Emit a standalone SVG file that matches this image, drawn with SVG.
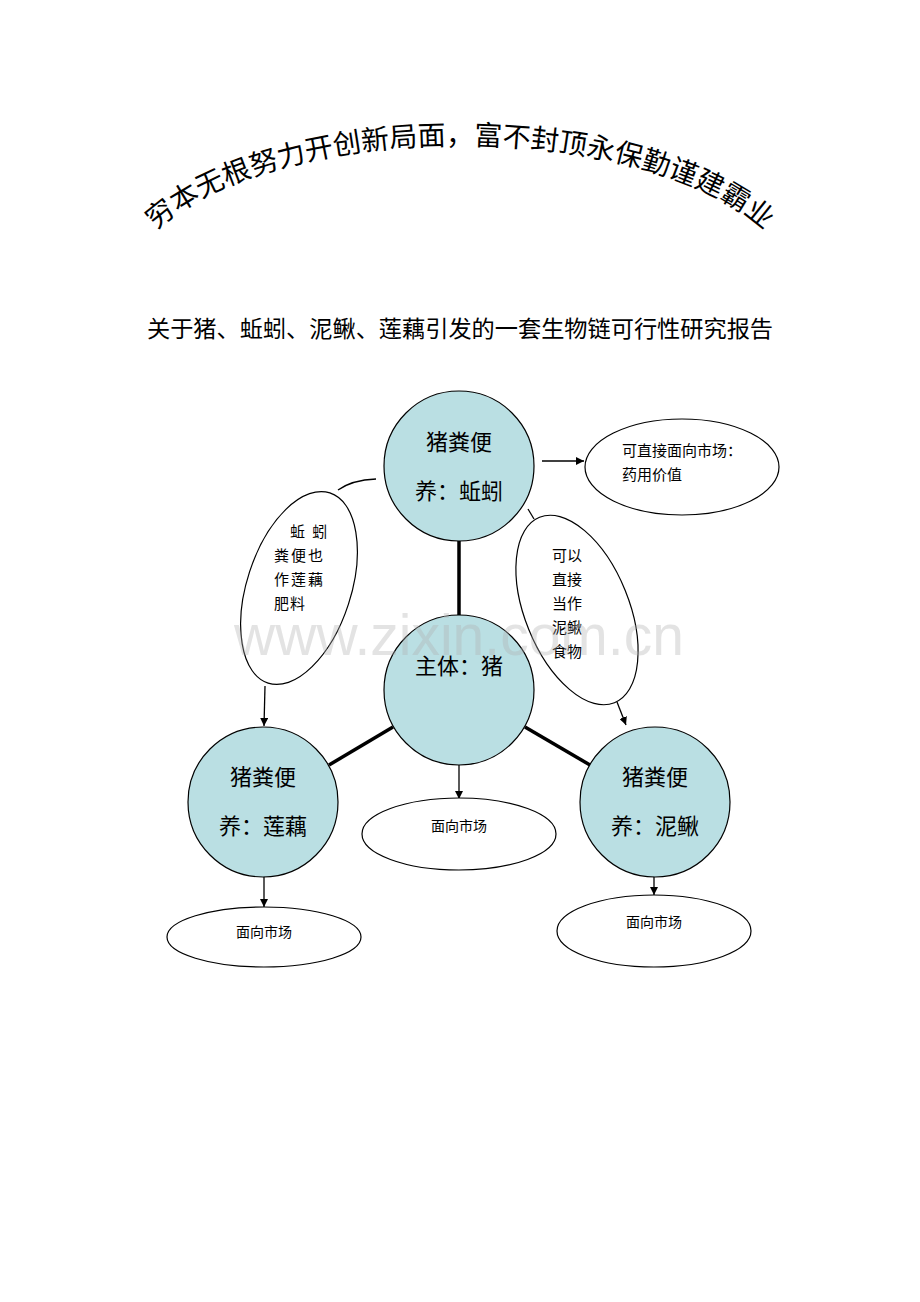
<svg xmlns="http://www.w3.org/2000/svg" width="920" height="1302" viewBox="0 0 920 1302">
<style>
.cjk{font-family:"Noto Sans CJK SC","Noto Sans",sans-serif;fill:#000}
.circ{fill:#BADFE3;stroke:#000;stroke-width:1.2}
.ell{fill:#fff;stroke:#000;stroke-width:1.2}
.thick{stroke:#000;stroke-width:3.5;fill:none}
.thin{stroke:#000;stroke-width:1.3;fill:none}
.big{font-size:22px;text-anchor:middle}
.small{font-size:15px}
.mk{font-size:14px;text-anchor:middle}
</style>
<defs>
<marker id="ah" viewBox="0 0 10 10" refX="10" refY="5" markerWidth="8" markerHeight="8" markerUnits="userSpaceOnUse" orient="auto">
<path d="M0,0 L10,5 L0,10 z" fill="#000"/>
</marker>
<path id="arc" d="M 125 292 A 335 147 0 0 1 795 292"/>
</defs>
<rect width="920" height="1302" fill="#fff"/>
<g id="title">
<text class="cjk" font-size="28"><textPath href="#arc" startOffset="50%" text-anchor="middle">穷本无根努力开创新局面，富不封顶永保勤谨建霸业</textPath></text>
</g>
<g id="subtitle">
<text class="cjk" x="460" y="337" font-size="23.2" text-anchor="middle">关于猪、蚯蚓、泥鳅、莲藕引发的一套生物链可行性研究报告</text>
</g>
<g id="connectors">
<line class="thick" x1="459" y1="541" x2="459" y2="615"/>
<line class="thick" x1="393" y1="727" x2="329" y2="765"/>
<line class="thick" x1="525" y1="727" x2="590" y2="765"/>
<line class="thin" x1="542" y1="461" x2="584" y2="461" marker-end="url(#ah)"/>
<path class="thin" d="M 338 490 Q 352 480 376 479"/>
<line class="thin" x1="265" y1="686" x2="264" y2="726" marker-end="url(#ah)"/>
<line class="thin" x1="528" y1="509" x2="534" y2="519"/>
<line class="thin" x1="617" y1="702" x2="626" y2="725" marker-end="url(#ah)"/>
<line class="thin" x1="459" y1="765" x2="459" y2="799" marker-end="url(#ah)"/>
<line class="thin" x1="264" y1="870" x2="264" y2="907" marker-end="url(#ah)"/>
<line class="thin" x1="654" y1="870" x2="654" y2="895" marker-end="url(#ah)"/>
</g>
<g id="node-earthworm">
<circle class="circ" cx="459" cy="466" r="75"/>
<text class="cjk big" x="459" y="450">猪粪便</text>
<text class="cjk big" x="459" y="499">养：蚯蚓</text>
</g>
<g id="node-pig">
<circle class="circ" cx="459" cy="690" r="75"/>
<text class="cjk big" x="459" y="674">主体：猪</text>
</g>
<g id="node-lotus">
<circle class="circ" cx="263" cy="802" r="75"/>
<text class="cjk big" x="263" y="785">猪粪便</text>
<text class="cjk big" x="263" y="834">养：莲藕</text>
</g>
<g id="node-loach">
<circle class="circ" cx="655" cy="802" r="75"/>
<text class="cjk big" x="655" y="785">猪粪便</text>
<text class="cjk big" x="655" y="834">养：泥鳅</text>
</g>
<g id="node-medicine">
<ellipse class="ell" cx="682" cy="467" rx="97" ry="48"/>
<text class="cjk small" x="622" y="456">可直接面向市场：</text>
<text class="cjk small" x="622" y="480">药用价值</text>
</g>
<g id="node-fertilizer">
<ellipse class="ell" cx="299" cy="588" rx="52" ry="100" transform="rotate(18 299 588)"/>
<text class="cjk small" x="290" y="537" letter-spacing="2">蚯 蚓</text>
<text class="cjk small" x="274" y="561" letter-spacing="2">粪便也</text>
<text class="cjk small" x="274" y="585" letter-spacing="2">作莲藕</text>
<text class="cjk small" x="274" y="609" letter-spacing="1">肥料</text>
</g>
<g id="node-feed">
<ellipse class="ell" cx="577" cy="610" rx="52" ry="100" transform="rotate(-22 577 610)"/>
<text class="cjk small" x="552" y="561">可以</text>
<text class="cjk small" x="552" y="585">直接</text>
<text class="cjk small" x="552" y="609">当作</text>
<text class="cjk small" x="552" y="633">泥鳅</text>
<text class="cjk small" x="552" y="657">食物</text>
</g>
<g id="node-market-center">
<ellipse class="ell" cx="459" cy="834" rx="97" ry="36"/>
<text class="cjk mk" x="459" y="831">面向市场</text>
</g>
<g id="node-market-left">
<ellipse class="ell" cx="264" cy="937" rx="97" ry="30"/>
<text class="cjk mk" x="264" y="937">面向市场</text>
</g>
<g id="node-market-right">
<ellipse class="ell" cx="654" cy="931" rx="97" ry="36"/>
<text class="cjk mk" x="654" y="927">面向市场</text>
</g>
<g id="watermark">
<text x="459" y="655" font-family="Liberation Sans, Arial, sans-serif" font-size="57" fill="#b0b0b0" fill-opacity="0.35" text-anchor="middle">www.zixin.com.cn</text>
</g>
</svg>
